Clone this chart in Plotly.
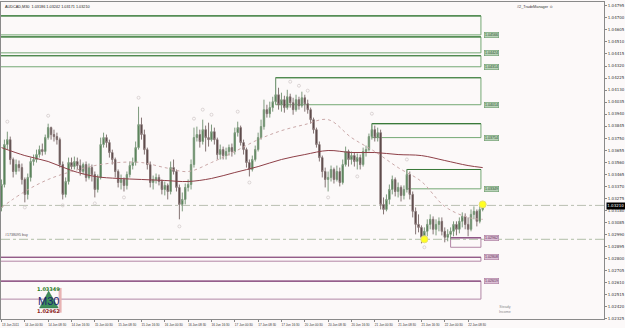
import plotly.graph_objects as go

# ---------------- data ----------------
open_ = [
1.03202, 1.03383, 1.03699, 1.03738, 1.03581, 1.03486, 1.03541, 1.03517, 1.03423, 1.03305,
1.03439, 1.03565, 1.03581, 1.03620, 1.03659, 1.03644, 1.03754, 1.03833, 1.03778, 1.03762,
1.03738, 1.03541, 1.03305, 1.03407, 1.03557, 1.03525, 1.03565, 1.03533, 1.03486, 1.03541,
1.03439, 1.03517, 1.03462, 1.03344, 1.03439, 1.03699, 1.03754, 1.03715, 1.03636, 1.03581,
1.03486, 1.03399, 1.03423, 1.03376, 1.03462, 1.03533, 1.03557, 1.03675, 1.03857, 1.03778,
1.03659, 1.03541, 1.03399, 1.03423, 1.03439, 1.03407, 1.03344, 1.03376, 1.03328, 1.03517,
1.03486, 1.03360, 1.03226, 1.03265, 1.03360, 1.03383, 1.03541, 1.03754, 1.03778, 1.03723,
1.03817, 1.03754, 1.03738, 1.03801, 1.03738, 1.03620, 1.03659, 1.03612, 1.03644, 1.03675,
1.03644, 1.03793, 1.03833, 1.03715, 1.03659, 1.03557, 1.03502, 1.03581, 1.03659, 1.03754,
1.03841, 1.03975, 1.03943, 1.03991, 1.04038, 1.04093, 1.04014, 1.04054, 1.03991, 1.04077,
1.04030, 1.03975, 1.04054, 1.04006, 1.04069, 1.04022, 1.03975, 1.03896, 1.03817, 1.03699,
1.03596, 1.03486, 1.03423, 1.03439, 1.03502, 1.03423, 1.03486, 1.03399, 1.03541, 1.03644,
1.03581, 1.03612, 1.03565, 1.03596, 1.03541, 1.03644, 1.03659, 1.03762, 1.03817, 1.03754,
1.03793, 1.03226, 1.03186, 1.03265, 1.03344, 1.03423, 1.03328, 1.03360, 1.03297, 1.03344,
1.03462, 1.03305, 1.03171, 1.03068, 1.03044, 1.02966, 1.03013, 1.03068, 1.03108, 1.03029,
1.03068, 1.03092, 1.03013, 1.02966, 1.02989, 1.03013, 1.03068, 1.03029, 1.03092, 1.03131,
1.03068, 1.03029, 1.03147, 1.03171, 1.03092, 1.03186]

high = [
1.03423, 1.03738, 1.03801, 1.03762, 1.03596, 1.03581, 1.03573, 1.03549, 1.03439, 1.03470,
1.03596, 1.03620, 1.03659, 1.03691, 1.03707, 1.03778, 1.03864, 1.03841, 1.03817, 1.03793,
1.03754, 1.03565, 1.03439, 1.03596, 1.03596, 1.03604, 1.03596, 1.03581, 1.03557, 1.03565,
1.03549, 1.03541, 1.03486, 1.03462, 1.03754, 1.03793, 1.03778, 1.03738, 1.03659, 1.03596,
1.03502, 1.03462, 1.03439, 1.03486, 1.03565, 1.03596, 1.03723, 1.03998, 1.03912, 1.03817,
1.03675, 1.03565, 1.03454, 1.03470, 1.03462, 1.03423, 1.03407, 1.03391, 1.03565, 1.03581,
1.03502, 1.03383, 1.03320, 1.03391, 1.03423, 1.03581, 1.03833, 1.03841, 1.03817, 1.03896,
1.03849, 1.03872, 1.03857, 1.03833, 1.03754, 1.03699, 1.03683, 1.03675, 1.03699, 1.03707,
1.03833, 1.03880, 1.03849, 1.03738, 1.03675, 1.03581, 1.03612, 1.03691, 1.03793, 1.03896,
1.04054, 1.04014, 1.04038, 1.04077, 1.04227, 1.04148, 1.04109, 1.04085, 1.04132, 1.04101,
1.04069, 1.04093, 1.04077, 1.04117, 1.04093, 1.04054, 1.03991, 1.03912, 1.03833, 1.03723,
1.03612, 1.03517, 1.03486, 1.03533, 1.03517, 1.03533, 1.03517, 1.03581, 1.03683, 1.03659,
1.03644, 1.03636, 1.03628, 1.03620, 1.03675, 1.03691, 1.03786, 1.03864, 1.03849, 1.03833,
1.03817, 1.03281, 1.03305, 1.03383, 1.03454, 1.03439, 1.03399, 1.03376, 1.03376, 1.03502,
1.03486, 1.03328, 1.03202, 1.03147, 1.03060, 1.03044, 1.03108, 1.03147, 1.03131, 1.03108,
1.03123, 1.03123, 1.03044, 1.03029, 1.03044, 1.03092, 1.03092, 1.03123, 1.03163, 1.03155,
1.03123, 1.03186, 1.03210, 1.03186, 1.03218, 1.03242]

low = [
1.03171, 1.03360, 1.03659, 1.03541, 1.03439, 1.03462, 1.03486, 1.03383, 1.03242, 1.03265,
1.03407, 1.03533, 1.03557, 1.03596, 1.03612, 1.03620, 1.03738, 1.03738, 1.03723, 1.03699,
1.03517, 1.03265, 1.03281, 1.03383, 1.03502, 1.03502, 1.03502, 1.03454, 1.03462, 1.03407,
1.03423, 1.03407, 1.03281, 1.03320, 1.03423, 1.03675, 1.03675, 1.03596, 1.03541, 1.03439,
1.03360, 1.03344, 1.03328, 1.03344, 1.03439, 1.03502, 1.03533, 1.03659, 1.03738, 1.03620,
1.03502, 1.03360, 1.03344, 1.03391, 1.03376, 1.03305, 1.03297, 1.03265, 1.03305, 1.03462,
1.03328, 1.03108, 1.03171, 1.03226, 1.03328, 1.03344, 1.03517, 1.03723, 1.03675, 1.03699,
1.03644, 1.03683, 1.03723, 1.03699, 1.03581, 1.03581, 1.03581, 1.03581, 1.03612, 1.03604,
1.03620, 1.03762, 1.03691, 1.03620, 1.03517, 1.03447, 1.03486, 1.03565, 1.03644, 1.03738,
1.03817, 1.03912, 1.03912, 1.03959, 1.04022, 1.03975, 1.03959, 1.03951, 1.03975, 1.03991,
1.03935, 1.03959, 1.03975, 1.03991, 1.03959, 1.03943, 1.03864, 1.03786, 1.03675, 1.03565,
1.03439, 1.03360, 1.03328, 1.03407, 1.03391, 1.03407, 1.03368, 1.03383, 1.03525, 1.03525,
1.03541, 1.03525, 1.03502, 1.03502, 1.03525, 1.03604, 1.03644, 1.03738, 1.03723, 1.03723,
1.03186, 1.03147, 1.03171, 1.03226, 1.03305, 1.03289, 1.03281, 1.03249, 1.03265, 1.03320,
1.03265, 1.03123, 1.02989, 1.03005, 1.02918, 1.02934, 1.02974, 1.03029, 1.02989, 1.02981,
1.03013, 1.02981, 1.02926, 1.02934, 1.02950, 1.02974, 1.02981, 1.02997, 1.03044, 1.03029,
1.02974, 1.03013, 1.03108, 1.03052, 1.03076, 1.03171]

close = [
1.03383, 1.03699, 1.03738, 1.03581, 1.03486, 1.03541, 1.03517, 1.03423, 1.03305, 1.03439,
1.03565, 1.03581, 1.03620, 1.03659, 1.03644, 1.03754, 1.03833, 1.03778, 1.03762, 1.03738,
1.03541, 1.03305, 1.03407, 1.03557, 1.03525, 1.03565, 1.03533, 1.03486, 1.03541, 1.03439,
1.03517, 1.03462, 1.03344, 1.03439, 1.03699, 1.03754, 1.03715, 1.03636, 1.03581, 1.03486,
1.03399, 1.03423, 1.03376, 1.03462, 1.03533, 1.03557, 1.03675, 1.03857, 1.03778, 1.03659,
1.03541, 1.03399, 1.03423, 1.03439, 1.03407, 1.03344, 1.03376, 1.03328, 1.03517, 1.03486,
1.03360, 1.03226, 1.03265, 1.03360, 1.03383, 1.03541, 1.03754, 1.03778, 1.03723, 1.03817,
1.03754, 1.03738, 1.03801, 1.03738, 1.03620, 1.03659, 1.03612, 1.03644, 1.03675, 1.03644,
1.03793, 1.03833, 1.03715, 1.03659, 1.03557, 1.03502, 1.03581, 1.03659, 1.03754, 1.03841,
1.03975, 1.03943, 1.03991, 1.04038, 1.04093, 1.04014, 1.04054, 1.03991, 1.04077, 1.04030,
1.03975, 1.04054, 1.04006, 1.04069, 1.04022, 1.03975, 1.03896, 1.03817, 1.03699, 1.03596,
1.03486, 1.03423, 1.03439, 1.03502, 1.03423, 1.03486, 1.03399, 1.03541, 1.03644, 1.03581,
1.03612, 1.03565, 1.03596, 1.03541, 1.03644, 1.03659, 1.03762, 1.03817, 1.03754, 1.03793,
1.03226, 1.03186, 1.03265, 1.03344, 1.03423, 1.03328, 1.03360, 1.03297, 1.03344, 1.03462,
1.03305, 1.03171, 1.03068, 1.03044, 1.02966, 1.03013, 1.03068, 1.03108, 1.03029, 1.03068,
1.03092, 1.03013, 1.02966, 1.02989, 1.03013, 1.03068, 1.03029, 1.03092, 1.03131, 1.03068,
1.03029, 1.03147, 1.03171, 1.03092, 1.03186, 1.03210]

bar_index = list(range(len(close)))

# x-axis labels (every 8th bar)
tick_bars = [0, 8, 16, 24, 32, 40, 48, 56, 64, 72, 80, 88, 96, 104, 112, 120, 128, 136, 144, 152, 160]
tick_text = ["13 Jun 2011", "14 Jun 00:30", "14 Jun 08:30", "14 Jun 16:30", "15 Jun 00:30",
             "15 Jun 08:30", "15 Jun 16:30", "16 Jun 00:30", "16 Jun 08:30", "16 Jun 16:30",
             "17 Jun 00:30", "17 Jun 08:30", "17 Jun 16:30", "20 Jun 00:30", "20 Jun 08:30",
             "20 Jun 16:30", "21 Jun 00:30", "21 Jun 08:30", "21 Jun 16:30", "22 Jun 00:30",
             "22 Jun 08:30"]

# price axis labels
price_ticks = [1.04795, 1.04700, 1.04605, 1.04510, 1.04415, 1.04320, 1.04225, 1.04130, 1.04035,
               1.03940, 1.03845, 1.03750, 1.03655, 1.03560, 1.03465, 1.03370, 1.03275, 1.03180,
               1.03085, 1.02990, 1.02895, 1.02800, 1.02705, 1.02610, 1.02515, 1.02420, 1.02325]

# moving averages (sampled every 8 bars)
ma_bars = [0, 8, 16, 24, 32, 40, 48, 56, 64, 72, 80, 88, 96, 104, 112, 120, 128, 136, 144, 152, 160, 165]
ma_slow = [1.03675, 1.03612, 1.03565, 1.03494, 1.03447, 1.03431, 1.03423, 1.03415, 1.03407, 1.03431,
           1.03478, 1.03525, 1.03581, 1.03620, 1.03652, 1.03636, 1.03636, 1.03620, 1.03612, 1.03573,
           1.03533, 1.03517]
ma_fast = [1.03202, 1.03328, 1.03423, 1.03486, 1.03533, 1.03557, 1.03557, 1.03517, 1.03486, 1.03557,
           1.03644, 1.03738, 1.03809, 1.03857, 1.03896, 1.03754, 1.03644, 1.03517, 1.03407, 1.03210,
           1.03123, 1.03108]

# fractal markers
frac_bars = [2, 16, 47, 66, 69, 72, 81, 99, 102, 105, 127, 139, 8, 21, 32, 42, 61, 85, 112, 122, 145]
frac_prices = [1.03880, 1.03927, 1.04069, 1.03904, 1.03975, 1.03935, 1.03959, 1.04196, 1.04164, 1.04125,
               1.03943, 1.03581, 1.03202, 1.03218, 1.03234, 1.03281, 1.03052, 1.03399, 1.03281, 1.03447,
               1.02887]

# highlighted extremes (yellow)
hl_bars = [145, 165]
hl_prices = [1.02950, 1.03226]

# supply zones (green) and demand zones (purple)
green_top = [1.04716, 1.04550, 1.04401, 1.04227, 1.03864, 1.03502]
green_bot = [1.04566, 1.04424, 1.04314, 1.04014, 1.03754, 1.03349]
green_start = [-5, -5, -5, 94, 127, 139]
purple_top = [1.02962, 1.02808, 1.02619]
purple_bot = [1.02887, 1.02777, 1.02477]
purple_start = [154, -5, -5]
zone_end = 164.4
label_bar = 165.5

# order lines
level_line = 1.03218
buy_line = 1.02950
buy_text = "#1738095 buy"

title_text = "AUDCAD,M30  1.03186 1.03242 1.03171 1.03210"

# ---------------- figure ----------------
BG = "#fcf9f9"
SMALL = "Liberation Sans"
fig = go.Figure()

fig.add_trace(go.Candlestick(
    x=bar_index, open=open_, high=high, low=low, close=close,
    increasing=dict(line=dict(color="#7d9a7d", width=1), fillcolor="#3b6f3b"),
    decreasing=dict(line=dict(color="#857474", width=1), fillcolor="#3a2626"),
    whiskerwidth=0, hoverinfo="skip"))

fig.add_trace(go.Scatter(x=ma_bars, y=ma_fast, mode="lines",
                         line=dict(color="#caa8a8", width=1, dash="dot", shape="spline"),
                         hoverinfo="skip"))
fig.add_trace(go.Scatter(x=ma_bars, y=ma_slow, mode="lines",
                         line=dict(color="#8e4048", width=1, shape="spline"),
                         hoverinfo="skip"))
fig.add_trace(go.Scatter(x=frac_bars, y=frac_prices, mode="markers",
                         marker=dict(symbol="circle-open", size=3, color="#d3cbcb", line=dict(width=0.8)),
                         hoverinfo="skip"))
fig.add_trace(go.Scatter(x=hl_bars, y=hl_prices, mode="markers",
                         marker=dict(symbol="circle", size=7, color="#ffff22",
                                     line=dict(color="#e8e070", width=1)),
                         hoverinfo="skip"))

shapes = []
annotations = []
for t, b, s in zip(green_top, green_bot, green_start):
    shapes.append(dict(type="rect", xref="x", yref="y", x0=s, x1=zone_end, y0=b, y1=t,
                       line=dict(color="#74a874", width=1), fillcolor="rgba(0,0,0,0)", layer="below"))
    shapes.append(dict(type="line", xref="x", yref="y", x0=s, x1=zone_end, y0=t, y1=t,
                       line=dict(color="#3a7a3a", width=1.2), layer="below"))
    annotations.append(dict(x=label_bar, y=b, xref="x", yref="y", text=f"{b:.5f}", showarrow=False,
                            xanchor="left", yanchor="middle", font=dict(size=3.6, color="#234f23", family=SMALL),
                            bgcolor="#b9d3b9", bordercolor="#6a9a6a", borderwidth=0.6, borderpad=0.5))
for t, b, s in zip(purple_top, purple_bot, purple_start):
    shapes.append(dict(type="rect", xref="x", yref="y", x0=s, x1=zone_end, y0=b, y1=t,
                       line=dict(color="#b286a6", width=1), fillcolor="rgba(0,0,0,0)", layer="below"))
    shapes.append(dict(type="line", xref="x", yref="y", x0=s, x1=zone_end, y0=t, y1=t,
                       line=dict(color="#83467a", width=1.2), layer="below"))
    annotations.append(dict(x=label_bar, y=t, xref="x", yref="y", text=f"{t:.5f}", showarrow=False,
                            xanchor="left", yanchor="middle", font=dict(size=3.6, color="#5a2a4c", family=SMALL),
                            bgcolor="#dcc0d6", bordercolor="#a9789c", borderwidth=0.6, borderpad=0.5))

for lvl, col in [(level_line, "#a9b0a0"), (buy_line, "#9fb094")]:
    shapes.append(dict(type="line", xref="paper", yref="y", x0=0, x1=1, y0=lvl, y1=lvl,
                       line=dict(color=col, width=0.8, dash="dashdot"), layer="below"))

annotations.append(dict(x=0.004, y=buy_line, xref="paper", yref="y", text=buy_text, showarrow=False,
                        xanchor="left", yanchor="bottom", font=dict(size=3.6, color="#555555", family=SMALL)))
annotations.append(dict(x=0.004, y=0.997, xref="paper", yref="paper", text=title_text, showarrow=False,
                        xanchor="left", yanchor="top", font=dict(size=3.8, color="#222222", family=SMALL)))
annotations.append(dict(x=0.918, y=0.997, xref="paper", yref="paper", text="#2_TradeManager ☺",
                        showarrow=False, xanchor="right", yanchor="top",
                        font=dict(size=3.8, color="#333333", family=SMALL)))
# current price label on the axis
annotations.append(dict(x=1.0, y=close[-1], xref="paper", yref="y", text=f"{close[-1]:.5f}",
                        showarrow=False, xanchor="left", yanchor="middle", xshift=2,
                        font=dict(size=4, color="#ffffff"), bgcolor="#000000", borderpad=0.3))

# M30 logo (bottom-left)
shapes.append(dict(type="path", xref="paper", yref="paper",
                   path="M 0.064 0.035 L 0.079 0.088 L 0.095 0.035 Z",
                   fillcolor="#3f8f5a", line=dict(color="#2e6e44", width=0.5)))
shapes.append(dict(type="rect", xref="paper", yref="paper", x0=0.0955, x1=0.1005, y0=0.02, y1=0.098,
                   fillcolor="#e8b3b3", line=dict(width=0)))
annotations.append(dict(x=0.079, y=0.094, xref="paper", yref="paper", text="<b>1.03349</b>",
                        showarrow=False, xanchor="center", yanchor="middle",
                        font=dict(size=5, color="#1e7a1e")))
annotations.append(dict(x=0.079, y=0.058, xref="paper", yref="paper", text="M30",
                        showarrow=False, xanchor="center", yanchor="middle",
                        font=dict(size=11, color="#1b2470", family="Liberation Sans")))
annotations.append(dict(x=0.079, y=0.025, xref="paper", yref="paper", text="<b>1.02962</b>",
                        showarrow=False, xanchor="center", yanchor="middle",
                        font=dict(size=5, color="#8e1c1c")))
# small logo bottom-right
annotations.append(dict(x=0.836, y=0.03, xref="paper", yref="paper", text="Steady<br>Income",
                        showarrow=False, xanchor="center", yanchor="middle",
                        font=dict(size=3.6, color="#8a8a8a", family=SMALL)))

fig.update_layout(
    width=625, height=328,
    margin=dict(l=0, r=17, t=2, b=9),
    paper_bgcolor=BG, plot_bgcolor=BG,
    showlegend=False,
    font=dict(family="DejaVu Sans", color="#333333"),
    shapes=shapes, annotations=annotations,
    xaxis=dict(range=[-0.17, 206.6], tickmode="array", tickvals=tick_bars, ticktext=tick_text,
               tickangle=0, tickfont=dict(size=3.1, color="#333333", family=SMALL), ticks="outside",
               ticklen=2, tickcolor="#888888", showgrid=False, zeroline=False, showline=True,
               linecolor="#8a8a8a", linewidth=1, mirror=True, ticklabelshift=9,
               ticklabeloverflow="allow", rangeslider=dict(visible=False), fixedrange=True),
    yaxis=dict(side="right", range=[1.02320, 1.04826], tickmode="array", tickvals=price_ticks,
               ticktext=[f"{v:.5f}" for v in price_ticks],
               tickfont=dict(size=4, color="#333333"), ticks="outside", ticklen=2, tickcolor="#888888",
               showgrid=False, zeroline=False, showline=True, linecolor="#8a8a8a", linewidth=1,
               mirror=True, fixedrange=True),
)

fig.write_html("out.html")
